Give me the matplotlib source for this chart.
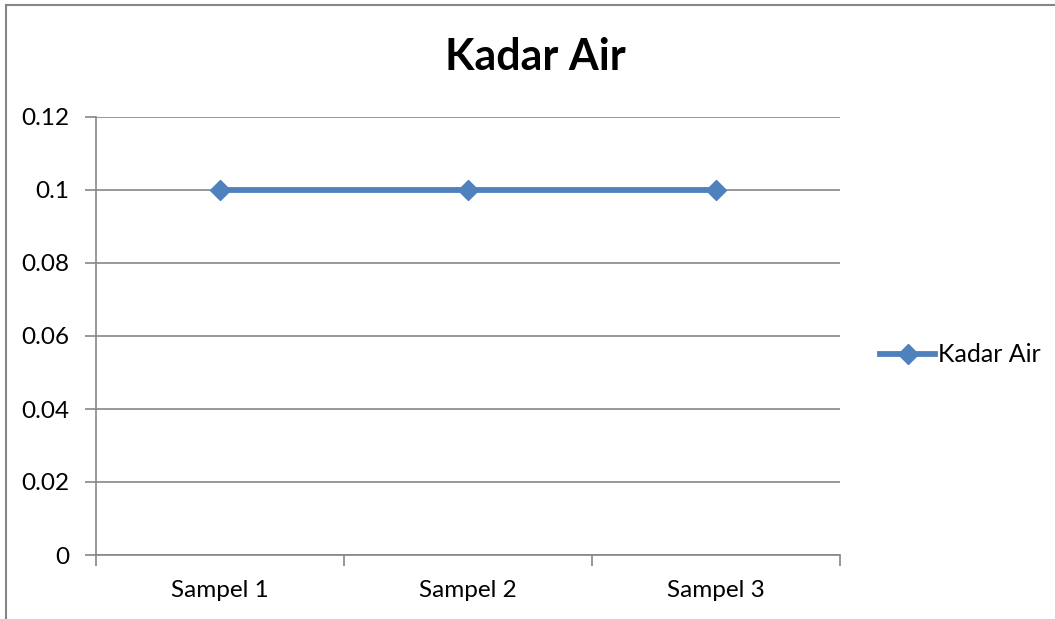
import matplotlib.pyplot as plt
from matplotlib.patches import Rectangle
from matplotlib.lines import Line2D

categories = ['Sampel 1', 'Sampel 2', 'Sampel 3']
kadar_air = [0.1, 0.1, 0.1]
y_ticks = [0, 0.02, 0.04, 0.06, 0.08, 0.1, 0.12]
y_labels = ['0', '0.02', '0.04', '0.06', '0.08', '0.1', '0.12']

plt.rcParams['font.family'] = ['Lato', 'DejaVu Sans']
grid_color = '#868686'
line_color = '#4F81BD'

fig = plt.figure(figsize=(10.55, 6.19), dpi=100)
ax = fig.add_axes([96 / 1055, 1 - 555 / 619, 744 / 1055, 438 / 619])

x = list(range(len(categories)))
ax.plot(x, kadar_air, color=line_color, lw=4.2, marker='D', ms=10,
        solid_capstyle='round')

ax.set_xlim(-0.5, len(categories) - 0.5)
ax.set_ylim(0, 0.12)
ax.set_yticks(y_ticks)
ax.set_yticklabels(y_labels)
ax.set_xticks(x)
ax.set_xticklabels(categories)
ax.set_xticks([i - 0.5 for i in range(len(categories) + 1)], minor=True)
ax.tick_params(axis='x', which='major', length=0, pad=18, labelsize=17.5)
ax.tick_params(axis='x', which='minor', length=8, color=grid_color, width=1.2)
ax.tick_params(axis='y', length=8, color=grid_color, width=1.2, pad=11,
               labelsize=17.5)
ax.yaxis.grid(True, color=grid_color, lw=1.2)
ax.set_axisbelow(True)
for side in ['top', 'right']:
    ax.spines[side].set_visible(False)
for side in ['left', 'bottom']:
    ax.spines[side].set_color(grid_color)
    ax.spines[side].set_linewidth(1.2)

fig.text(535 / 1055, 1 - 57 / 619, 'Kadar Air', ha='center', va='center',
         fontsize=31, fontweight='bold')

handle = Line2D([], [], color=line_color, lw=4.2, marker='D', ms=10)
fig.legend([handle], ['Kadar Air'], loc='center left',
           bbox_to_anchor=(880 / 1055, 1 - 355 / 619), frameon=False,
           fontsize=18, handlelength=2.2, handletextpad=0.1,
           borderaxespad=0, borderpad=0)

# outer chart border
fig.patches.append(Rectangle((6 / 1055, -0.1), 1.2, 1 - 5 / 619 + 0.1,
                             transform=fig.transFigure, fill=False,
                             edgecolor='#868686', lw=1.5))

plt.savefig('out.png', dpi=100)
